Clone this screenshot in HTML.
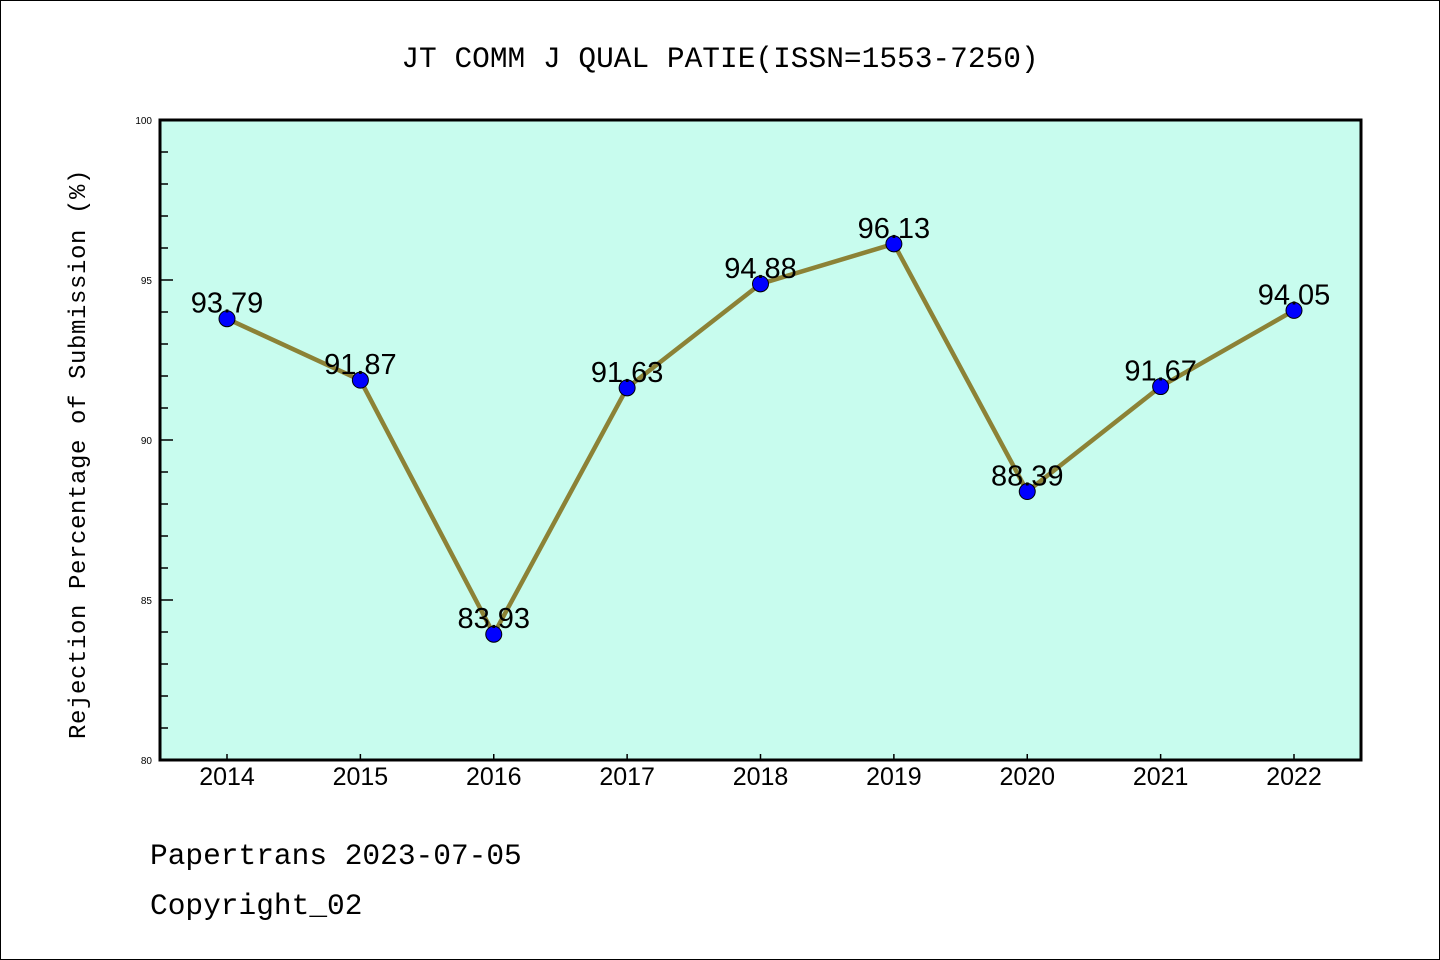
<!DOCTYPE html>
<html><head><meta charset="utf-8"><style>
html,body{margin:0;padding:0;background:#fff;}
svg{display:block;}
</style></head><body>
<svg id="chart" width="1440" height="960" xmlns="http://www.w3.org/2000/svg">
<rect x="0.5" y="0.5" width="1439" height="959" fill="#fff" stroke="#000" stroke-width="1"/>
<text x="720" y="67" text-anchor="middle" font-family="Liberation Mono, monospace" font-size="29.5" fill="#000">JT COMM J QUAL PATIE(ISSN=1553-7250)</text>
<rect x="160" y="120" width="1201" height="640" fill="#c8fcee"/>
<g id="axes"></g>
<g id="series"></g>
<rect x="160" y="120" width="1201" height="640" fill="none" stroke="#000" stroke-width="3"/>
<text transform="translate(85,454) rotate(-90)" text-anchor="middle" font-family="Liberation Mono, monospace" font-size="24" letter-spacing="0.6" fill="#000">Rejection Percentage of Submission (%)</text>
<text x="150" y="864" font-family="Liberation Mono, monospace" font-size="29.5" fill="#000">Papertrans 2023-07-05</text>
<text x="150" y="914" font-family="Liberation Mono, monospace" font-size="29.5" fill="#000">Copyright_02</text>
</svg>
<script>
const categories = ["2014","2015","2016","2017","2018","2019","2020","2021","2022"];
const values = [93.79, 91.87, 83.93, 91.63, 94.88, 96.13, 88.39, 91.67, 94.05];
const valueLabels = ["93.79","91.87","83.93","91.63","94.88","96.13","88.39","91.67","94.05"];
const yTicks = [80, 85, 90, 95, 100];
const yMin = 80, yMax = 100;
const NS = "http://www.w3.org/2000/svg";
function xPos(i){ return 227 + i * (1294 - 227) / (categories.length - 1); }
function yPos(v){ return 760 - (v - yMin) / (yMax - yMin) * 640; }
function mk(tag, attrs, parent){ const e=document.createElementNS(NS,tag); for(const k in attrs) e.setAttribute(k,attrs[k]); parent.appendChild(e); return e; }
const axes=document.getElementById('axes');
const series=document.getElementById('series');
for(let v=yMin; v<=yMax; v++){
  const major = yTicks.includes(v);
  const t=mk('line',{x1:160,x2:160+(major?13:8),y1:yPos(v),y2:yPos(v),stroke:'#000','stroke-width':1.5},axes);
  
  
}
yTicks.forEach(v=>{
  const t=mk('text',{x:152,y:yPos(v)+4,'text-anchor':'end','font-family':'Liberation Sans, sans-serif','font-size':10,fill:'#000'},axes);
  t.textContent=v;
  
  
});
categories.forEach((c,i)=>{
  const tk=mk('line',{x1:xPos(i),x2:xPos(i),y1:760,y2:754,stroke:'#000','stroke-width':1.5},axes);
  
  
  const t=mk('text',{x:xPos(i),y:785,'text-anchor':'middle','font-family':'Liberation Sans, sans-serif','font-size':25,fill:'#000'},axes);
  t.textContent=c;
  
  
});
const pts=values.map((v,i)=>xPos(i)+','+yPos(v)).join(' ');
const line=mk('polyline',{points:pts,fill:'none',stroke:'#8c8236','stroke-width':4.5,'stroke-linejoin':'round'},series);


values.forEach((v,i)=>{
  const c=mk('circle',{cx:xPos(i),cy:yPos(v),r:8,fill:'#0000ff',stroke:'#000','stroke-width':1},series);
  
  
});
values.forEach((v,i)=>{
  const t=mk('text',{x:xPos(i),y:yPos(v)-6,'text-anchor':'middle','font-family':'Liberation Sans, sans-serif','font-size':29,fill:'#000'},series);
  t.textContent=valueLabels[i];
  
  
});
</script>
</body></html>
